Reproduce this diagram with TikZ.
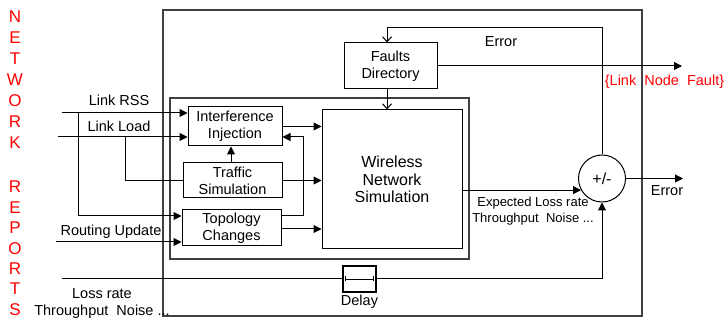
\documentclass[tikz,border=0pt]{standalone}
\usepackage{fontspec}
\setmainfont{Liberation Sans}
\usetikzlibrary{arrows.meta,calc}
\definecolor{frame}{HTML}{404040}
\definecolor{alert}{HTML}{FF0000}

\begin{document}
\begin{tikzpicture}[x=1pt, y=-1pt,
  block/.style={draw, line width=1pt, align=center, inner sep=0pt, font=\fontsize{14.5}{17}\selectfont},
  lbl/.style={font=\fontsize{14.5}{17}\selectfont, align=center, inner sep=0pt},
  wire/.style={line width=1pt},
  sig/.style={wire, -{Triangle[length=8pt,width=8pt]}},
  fb/.style={wire, -{Straight Barb[length=5pt,width=9pt]}},
  letter/.style={text=alert, font=\fontsize{17}{17}\selectfont, inner sep=0pt}]
  \useasboundingbox (0,0) rectangle (726,320);
  % Frames
  \draw[frame, line width=1.3pt] (163,10) rectangle (642,316);
  \draw[frame, line width=1.3pt] (170,98) rectangle (469,259);
  % Blocks
  \node[block, minimum width=93pt, minimum height=46pt] (faults) at (390.5,66) {Faults\\Directory};
  \node[block, minimum width=94pt, minimum height=39pt] (interf) at (235,126.5) {Interference\\Injection};
  \node[block, minimum width=99pt, minimum height=35pt] (traffic) at (232.5,180.5) {Traffic\\Simulation};
  \node[block, minimum width=99pt, minimum height=36pt] (topo) at (231.5,228) {Topology\\Changes};
  \node[block, minimum width=140pt, minimum height=139pt, font=\fontsize{16}{17.5}\selectfont] (wns) at (392,179.5) {Wireless\\Network\\Simulation};
  \node[block, line width=1.6pt, minimum width=33pt, minimum height=26pt] (delay) at (359.5,279) {};
  \node[block, circle, minimum size=47pt, font=\fontsize{16}{17}\selectfont] (sum) at (602,178.5) {+/-};
  \draw[line width=0.6pt, {Bar[width=5pt]}-{Bar[width=5pt]}] ([xshift=3pt]delay.west) -- ([xshift=-3pt]delay.east);
  % Free ends
  \coordinate (rssin) at (62,113);
  \coordinate (loadin) at (58,137);
  \coordinate (routin) at (56,242);
  \coordinate (lossin) at (62,279);
  \coordinate (rssbr) at (78,113);
  \coordinate (loadbr) at (125,137);
  \coordinate (fbtop) at (387,28);
  \coordinate (faultout) at (682,66);
  \coordinate (errout) at (683,178.5);
  % Inputs
  \draw[sig] (rssin) -- (rssin -| interf.west);
  \draw[sig] (loadin) -- (loadin -| interf.west);
  \draw[wire] (loadbr) |- (traffic.west);
  \draw[sig] (rssbr) |- (topo.west |- 0,216);
  \draw[sig] (routin) -- (routin -| topo.west);
  \draw[wire] (lossin) -- (delay.west);
  % Inside the simulator
  \draw[sig] (traffic.north -| 231,0) -- (interf.south -| 231,0);
  \draw[sig] (interf.east) -- (interf.east -| wns.west);
  \draw[sig] (topo.east |- 0,216) -| (303,137) -- (interf.east |- 0,137);
  \draw[sig] (traffic.east) -- (traffic.east -| wns.west);
  \draw[sig] (topo.east |- 0,229) -- (wns.west |- 0,229);
  \draw[fb] (fbtop |- faults.south) -- (fbtop |- wns.north);
  % Comparison and feedback
  \draw[sig] (sum.209 -| wns.east) -- (sum.209);
  \draw[sig] (delay.east) -| (sum.south);
  \draw[fb] (sum.north) |- (fbtop) -- (fbtop |- faults.north);
  \draw[sig] (sum.east) -- (errout);
  \draw[sig] (faults.east) -- (faultout);
  % Labels
  \node[lbl] (rsslbl) at (119,100.5) {Link RSS};
  \node[lbl] (loadlbl) at (119,126) {Link Load};
  \node[lbl] (routlbl) at (111,232) {Routing Update};
  \node[lbl] (losslbl) at (102,304) {Loss rate\\Throughput\ \ Noise ...};
  \node[lbl] (errlbl) at (501,41.5) {Error};
  \node[lbl] (outlbl) at (667,191) {Error};
  \node[lbl, text=alert] (faultlbl) at (664.5,82) {\{Link\ \ Node\ \ Fault\}};
  \node[lbl, font=\fontsize{13}{16}\selectfont] (explbl) at (533,211) {Expected Loss rate\\Throughput\ \ Noise ...};
  \node[lbl] (delaylbl) at (359.5,302) {Delay};
  % Side title
  \foreach \ch [count=\i from 0] in {N,E,T,W,O,R,K}
    \node[letter] (nw\i) at (15,{17+21*\i}) {\ch};
  \foreach \ch [count=\i from 0] in {R,E,P,O,R,T,S}
    \node[letter] (rp\i) at (15,{187+20.4*\i}) {\ch};
\end{tikzpicture}
\end{document}
